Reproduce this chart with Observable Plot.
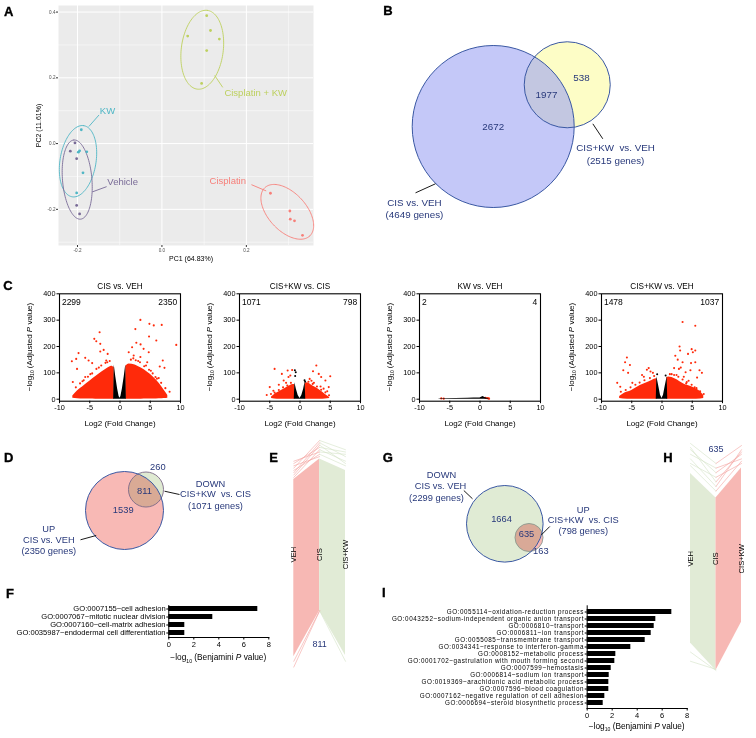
<!DOCTYPE html>
<html>
<head>
<meta charset="utf-8">
<script src="https://cdn.jsdelivr.net/npm/d3@7"></script>
<script src="https://cdn.jsdelivr.net/npm/@observablehq/plot@0.6"></script>
<style>
html,body{margin:0;padding:0;background:#fff;}
#fig{position:relative;width:756px;height:738px;overflow:hidden;background:#fff;font-family:Liberation Sans, Arial, sans-serif;}
#fig svg{position:absolute;}
</style>
</head>
<body>
<div id="fig"></div>
<script>
const FONT = 'Liberation Sans, Arial, sans-serif';
const NAVY = "#27387a";
const RED = "#ff2a0a";

// ---------------- Panel A: PCA ----------------
const pcaGroups = ["Cisplatin + KW", "KW", "Vehicle", "Cisplatin"];
const pcaColors = ["#bdd05e", "#4fb6c5", "#796b97", "#f77f79"];
const pc1CisKW = [0.106, 0.115, 0.061, 0.136, 0.106, 0.094];
const pc2CisKW = [0.389, 0.344, 0.327, 0.318, 0.283, 0.183];
const pc1KW = [-0.191, -0.195, -0.198, -0.178, -0.187, -0.202];
const pc2KW = [0.042, -0.022, -0.026, -0.025, -0.089, -0.150];
const pc1Veh = [-0.206, -0.217, -0.202, -0.202, -0.195];
const pc2Veh = [0.002, -0.023, -0.046, -0.188, -0.214];
const pc1Cis = [0.257, 0.303, 0.304, 0.314, 0.333];
const pc2Cis = [-0.151, -0.205, -0.230, -0.235, -0.279];
// confidence ellipses (centre and two semi-axis vectors, data units)
const ellCx = [0.0955, -0.1988, -0.2007, 0.2969];
const ellCy = [0.2854, -0.0537, -0.1095, -0.2076];
const ellAx = [0.01185, 0.01374, -0.00794, 0.0531];
const ellAy = [0.1198, 0.1082, 0.1204, -0.0735];
const ellBx = [0.0493, 0.04206, 0.0347, 0.0329];
const ellBy = [-0.00808, -0.00884, 0.00378, 0.0393];
const pcaLabelX = [0.222, -0.129, -0.093, 0.156];
const pcaLabelY = [0.155, 0.098, -0.118, -0.114];
const pcaLeadX1 = [0.125, -0.173, -0.165, 0.212];
const pcaLeadY1 = [0.207, 0.052, -0.147, -0.125];
const pcaLeadX2 = [0.144, -0.149, -0.131, 0.247];
const pcaLeadY2 = [0.171, 0.087, -0.131, -0.144];
const pcaMajorX = [-0.2, 0, 0.2];
const pcaMinorX = [-0.1, 0.1, 0.3];
const pcaMajorY = [-0.2, 0, 0.2, 0.4];
const pcaMinorY = [-0.3, -0.1, 0.1, 0.3];

// ---------------- Panel B: Venn ----------------
const bCircleX = [0, 0.914], bCircleY = [0, 0.515], bCircleR = [1, 0.531];
const bCountText = ["2672", "1977", "538"];
const bCountX = [0, 0.658, 1.09], bCountY = [0, 0.386, 0.601];
const bLabelText = ["CIS+KW\u00a0 vs. VEH", "(2515 genes)", "CIS vs. VEH", "(4649 genes)"];
const bLabelX = [1.51, 1.51, -0.972, -0.972], bLabelY = [-0.268, -0.42, -0.947, -1.086];
const bLeadX1 = [1.23, -0.959], bLeadY1 = [0.033, -0.819], bLeadX2 = [1.353, -0.712], bLeadY2 = [-0.152, -0.707];

// ---------------- Panel C: volcano plots ----------------
const volTitles = ["CIS vs. VEH", "CIS+KW vs. CIS", "KW vs. VEH", "CIS+KW vs. VEH"];
const volDown = ["2299", "1071", "2", "1478"];
const volUp = ["2350", "798", "4", "1037"];
const volXTicks = [-10, -5, 0, 5, 10];
const volYTicks = [0, 100, 200, 300, 400];
// CIS vs VEH
const v1LeftX = [-7.8, -7.0, -6.0, -5.0, -4.0, -3.0, -2.0, -1.4, -0.95];
const v1LeftTop = [12, 32, 50, 68, 86, 103, 118, 125, 120];
const v1LeftBot = [4, 2, 1, 0.5, 0, 0, 0, 0, 0];
const v1RightX = [0.95, 1.5, 2.5, 3.5, 4.5, 5.5, 6.5, 7.3, 7.9];
const v1RightTop = [125, 134, 130, 118, 103, 84, 60, 34, 14];
const v1RightBot = [0, 0, 0, 0, 0.5, 1, 2, 3, 4];
const v1CoreX = [-1.05, -0.95, -0.7, -0.4, -0.15, 0, 0.15, 0.4, 0.7, 0.95, 1.05];
const v1CoreTop = [0, 130, 85, 40, 10, 4, 10, 40, 85, 130, 0];
const v1OutX = [3.37,4.86,5.58,6.9,2.54,4.8,6.0,2.7,3.4,9.3,2.0,3.9,1.44,4.75,7.07,7.35,6.57,5.86,3.37,5.58,4.5,2.26,-3.37,-4.25,-3.92,-3.26,-2.7,-6.85,-7.24,-7.96,-5.75,-5.19,-3.26,-2.04,-7.8,-7.1,-4.6,-2.27,-5.75,
  -7.3,-6.6,-6.0,-5.3,-4.6,-3.9,-3.1,-2.4,-1.7,1.8,2.6,3.3,4.0,4.8,5.4,6.1,6.8,7.5,8.2,-6.2,-4.9,-3.5,-2.1,2.2,3.0,4.3,5.1,6.4];
const v1OutY = [301,286,280,282,266,238,223,214,208,206,197,191,178,178,147,119,124,84,160,46,140,166,254,229,220,210,187,175,153,144,157,147,181,172,65,115,137,147,84,
  45,60,72,85,98,115,128,138,145,150,148,140,125,112,98,78,62,42,28,68,95,120,140,155,145,128,108,80];
// CIS+KW vs CIS
const v2LeftX = [-4.7, -4.2, -3.3, -2.4, -1.6, -1.1, -0.85];
const v2LeftTop = [8, 18, 30, 42, 52, 56, 55];
const v2LeftBot = [3, 1, 0, 0, 0, 0, 0];
const v2RightX = [0.85, 1.2, 1.8, 2.6, 3.4, 4.2, 4.9];
const v2RightTop = [60, 62, 55, 44, 32, 18, 6];
const v2RightBot = [0, 0, 0, 0, 0, 1, 3];
const v2CoreX = [-0.95, -0.85, -0.6, -0.3, 0, 0.3, 0.6, 0.85, 0.95];
const v2CoreTop = [0, 62, 38, 14, 3, 14, 38, 66, 0];
const v2OutX = [-4.2,-3.0,-2.04,-1.3,-1.6,2.7,2.15,3.1,3.5,5.0,1.6,-1.9,-2.7,-5.0,-5.5,4.2,4.75,3.4,-3.5,2.3,1.9,-2.3,3.9,4.5,-4.4,
  -4.8,-4.2,-3.5,-2.8,-2.1,-1.5,1.4,2.1,2.8,3.5,4.2,4.8];
const v2OutY = [115,96,109,111,90,128,106,96,84,87,77,84,71,46,16,71,46,48,55,62,70,62,40,30,32,
  20,25,35,45,52,62,66,58,48,36,26,15];
const v2BlackX = [-0.85, -0.7, -0.8, 0.75, 0.85];
const v2BlackY = [110, 102, 88, 72, 66];
// KW vs VEH
const v3CoreX = [-6.9, -6.5, -4.0, -2.0, -1.0, 0, 0.5, 0.8, 1.2, 1.6];
const v3CoreTop = [0, 2, 3, 4, 5, 5, 10, 6, 4, 0];
const v3OutX = [-6.4, -6.0, 0.9, 1.2, 1.4, 1.5];
const v3OutY = [3, 2, 5, 4, 3, 2];
// CIS+KW vs VEH
const v4LeftX = [-7.0, -6.4, -5.0, -3.6, -2.2, -1.1, -0.8];
const v4LeftTop = [10, 20, 33, 52, 65, 77, 78];
const v4LeftBot = [3, 1, 0, 0, 0, 0, 0];
const v4RightX = [0.8, 1.1, 2.2, 3.6, 5.0, 6.4, 6.9];
const v4RightTop = [82, 84, 77, 58, 46, 27, 14];
const v4RightBot = [0, 0, 0, 0, 0, 1, 3];
const v4CoreX = [-0.95, -0.85, -0.5, -0.25, 0, 0.25, 0.5, 0.85, 0.95];
const v4CoreTop = [0, 85, 45, 15, 3, 15, 45, 85, 0];
const v4OutX = [3.4,5.5,2.9,4.9,5.5,5.1,4.3,3.0,2.2,2.6,5.5,3.4,4.8,-5.8,-6.1,-5.3,-6.4,-5.6,-2.2,-2.5,-1.9,-1.5,2.0,2.8,3.1,3.9,4.7,6.2,6.6,5.8,-7.4,-6.9,-4.9,5.4,5.0,1.6,2.4,-3.3,-3.0,3.6,4.4,4.0,
  -6.8,-6.0,-5.2,-4.4,-3.7,-2.9,-2.0,-1.3,1.3,2.0,2.7,3.4,4.1,4.9,5.7,6.3,6.9];
const v4OutY = [293,279,200,190,185,178,172,185,165,150,140,140,137,158,140,130,110,100,118,112,105,100,118,115,120,102,110,110,100,82,62,47,62,45,40,95,92,92,85,85,70,60,
  28,35,45,55,63,72,80,88,95,92,85,75,65,55,42,30,20];
const v4BlackX = [-0.8, 0.6];
const v4BlackY = [95, 90];

// ---------------- Panel D: Venn ----------------
const dCircleX = [0, 0.551], dCircleY = [0, 0.538], dCircleR = [1, 0.449];
const dCountText = ["1539", "811", "260"];
const dCountX = [-0.033, 0.513, 0.854], dCountY = [0.018, 0.487, 1.11];
const dLabelText = ["DOWN", "CIS+KW\u00a0 vs. CIS", "(1071 genes)", "UP", "CIS vs. VEH", "(2350 genes)"];
const dLabelX = [2.205, 2.333, 2.333, -1.941, -1.941, -1.941];
const dLabelY = [0.685, 0.41, 0.11, -0.469, -0.751, -1.044];
const dLeadX1 = [1.026, -1.128], dLeadY1 = [0.495, -0.751], dLeadX2 = [1.41, -0.726], dLeadY2 = [0.41, -0.641];

// ---------------- Panel G: Venn ----------------
const gCircleX = [0, 0.632], gCircleY = [0, -0.358], gCircleR = [1, 0.366];
const gCountText = ["1664", "635", "163"];
const gCountX = [-0.086, 0.567, 0.94], gCountY = [0.131, -0.279, -0.715];
const gLabelText = ["DOWN", "CIS vs. VEH", "(2299 genes)", "UP", "CIS+KW\u00a0 vs. CIS", "(798 genes)"];
const gLabelX = [-1.653, -1.679, -1.783, 2.047, 2.047, 2.047];
const gLabelY = [1.261, 0.982, 0.679, 0.366, 0.104, -0.201];
const gLeadX1 = [-1.07, 0.958], gLeadY1 = [0.869, -0.287], gLeadX2 = [-0.843, 1.175], gLeadY2 = [0.653, -0.07];

// ---------------- Panels E and H: parallel coordinates ----------------
const pcColumns = ["VEH", "CIS", "CIS+KW"];
const ePinkHi = [83, 92], ePinkLo = [6, 26];
const eGreenHi = [92, 87], eGreenLo = [26, 6.5];
const eFringePinkVEH = [88, 90, 86, 84, 91, 87, 85, 89, 1.5, 4];
const eFringePinkCIS = [100, 97, 99, 96, 95, 94, 98, 93, 26, 26];
const eFringeGreenCIS = [100, 99, 97, 96, 98, 95, 94, 26];
const eFringeGreenKW = [96, 93, 95, 91, 90, 94, 89, 4];
const hGreenHi = [85.6, 75], hGreenLo = [12, 0];
const hPinkHi = [75, 88], hPinkLo = [0, 21];
const hFringeGreenVEH = [98.7, 96, 94, 92, 90, 89, 97, 8, 4];
const hFringeGreenCIS = [90, 86, 88, 80, 84, 78, 82, 0, 0.5];
const hFringePinkCIS = [90, 86, 88, 80, 84, 78, 82];
const hFringePinkKW = [97.8, 94, 92, 96, 90, 91, 95];

// ---------------- Panels F and I: GO terms ----------------
const fTerms = ["GO:0007155~cell adhesion", "GO:0007067~mitotic nuclear division", "GO:0007160~cell-matrix adhesion", "GO:0035987~endodermal cell differentiation"];
const fValues = [7.12, 3.52, 1.28, 1.28];
const iTerms = ["GO:0055114~oxidation-reduction process", "GO:0043252~sodium-independent organic anion transport", "GO:0006810~transport", "GO:0006811~ion transport", "GO:0055085~transmembrane transport", "GO:0034341~response to interferon-gamma", "GO:0008152~metabolic process", "GO:0001702~gastrulation with mouth forming second", "GO:0007599~hemostasis", "GO:0006814~sodium ion transport", "GO:0019369~arachidonic acid metabolic process", "GO:0007596~blood coagulation", "GO:0007162~negative regulation of cell adhesion", "GO:0006694~steroid biosynthetic process"];
const iValues = [6.77, 5.49, 5.36, 5.12, 4.64, 3.49, 2.29, 2.21, 1.92, 1.76, 1.73, 1.73, 1.41, 1.28];
const barTicks = [0, 2, 4, 6, 8];

// ================= helpers =================
const fig = document.getElementById("fig");
const baseStyle = {fontFamily: FONT, fontSize: "7px", color: "#000", background: "transparent", overflow: "visible"};
function place(el, left, top) {
  el.style.position = "absolute";
  el.style.left = left + "px";
  el.style.top = top + "px";
  fig.appendChild(el);
}
function richText(svg, x, y, rot, fs, parts) {
  const t = d3.select(svg).append("text")
    .attr("transform", `translate(${x},${y}) rotate(${rot})`)
    .attr("text-anchor", "middle").attr("font-size", fs)
    .attr("font-family", FONT).attr("fill", "#000");
  let shift = 0;
  parts.forEach((p, i) => {
    const s = t.append("tspan").text(p.t);
    let dy = i === 0 ? 0.35 * fs : 0;
    if (p.sub) { s.attr("font-size", fs * 0.62); dy += 0.3 * fs; shift = 0.3 * fs; }
    else if (shift) { dy -= shift; shift = 0; }
    if (p.it) s.attr("font-style", "italic");
    if (dy) s.attr("dy", dy);
  });
}
const adjLabel = [{t: "\u2212log"}, {t: "10", sub: true}, {t: " (Adjusted "}, {t: "P", it: true}, {t: " value)"}];
const benjLabel = [{t: "\u2212log"}, {t: "10", sub: true}, {t: " (Benjamini "}, {t: "P", it: true}, {t: " value)"}];

// ================= Panel A =================
{
  const pc1 = [pc1CisKW, pc1KW, pc1Veh, pc1Cis];
  const pc2 = [pc2CisKW, pc2KW, pc2Veh, pc2Cis];
  const pts = pcaGroups.flatMap((g, gi) => pc1[gi].map((x, i) => ({g, x, y: pc2[gi][i]})));
  const ell = pcaGroups.flatMap((g, gi) => d3.range(0, 121).map(k => {
    const t = 2 * Math.PI * k / 120;
    return {g, x: ellCx[gi] + ellAx[gi] * Math.cos(t) + ellBx[gi] * Math.sin(t),
               y: ellCy[gi] + ellAy[gi] * Math.cos(t) + ellBy[gi] * Math.sin(t)};
  }));
  const labels = pcaGroups.map((g, i) => ({g, x: pcaLabelX[i], y: pcaLabelY[i]}));
  const leads = pcaGroups.map((g, i) => ({g, x1: pcaLeadX1[i], y1: pcaLeadY1[i], x2: pcaLeadX2[i], y2: pcaLeadY2[i]}));
  const svg = Plot.plot({
    width: 380, height: 280, marginLeft: 58, marginRight: 67, marginTop: 5, marginBottom: 35,
    x: {domain: [-0.245, 0.359]}, y: {domain: [-0.31, 0.42]},
    color: {domain: pcaGroups, range: pcaColors},
    style: baseStyle,
    marks: [
      Plot.frame({fill: "#ebebeb", stroke: null}),
      Plot.ruleX(pcaMinorX, {stroke: "#fff", strokeWidth: 0.5}),
      Plot.ruleY(pcaMinorY, {stroke: "#fff", strokeWidth: 0.5}),
      Plot.ruleX(pcaMajorX, {stroke: "#fff", strokeWidth: 1}),
      Plot.ruleY(pcaMajorY, {stroke: "#fff", strokeWidth: 1}),
      Plot.line(ell, {x: "x", y: "y", z: "g", stroke: "g", strokeWidth: 0.9, curve: "linear"}),
      Plot.dot(pts, {x: "x", y: "y", fill: "g", r: 1.4}),
      Plot.link(leads, {x1: "x1", y1: "y1", x2: "x2", y2: "y2", stroke: "g", strokeWidth: 0.9}),
      Plot.text(labels, {x: "x", y: "y", text: "g", fill: "g", fontSize: 9.5}),
      Plot.axisX({ticks: pcaMajorX, tickSize: 2, tickPadding: 1, fontSize: 4.6, tickFormat: d => d.toFixed(1), label: null, stroke: "#333", fill: "#4d4d4d"}),
      Plot.axisY({ticks: pcaMajorY, tickSize: 2, tickPadding: 1, fontSize: 4.6, tickFormat: d => d.toFixed(1), label: null, stroke: "#333", fill: "#4d4d4d"}),
      Plot.text(["PC1 (64.83%)"], {frameAnchor: "bottom", dy: 13.3, dx: 5, lineAnchor: "middle", fontSize: 7}),
      Plot.text(["PC2 (11.61%)"], {frameAnchor: "left", dx: -20, rotate: -90, textAnchor: "middle", fontSize: 7})
    ]
  });
  place(svg, 0, 0);
}

// ================= Venn helper =================
function venn(cfg) {
  const {width, height, cx, cy, unit} = cfg;
  return Plot.plot({
    width, height, margin: 0,
    x: {domain: [-cx / unit, (width - cx) / unit], axis: null},
    y: {domain: [(cy - height) / unit, cy / unit], axis: null},
    r: {type: "linear", domain: [0, 1], range: [0, unit]},
    style: baseStyle,
    marks: cfg.marks
  });
}
const rows = (xs, ys, extra) => xs.map((x, i) => Object.assign({x, y: ys[i]}, extra ? extra(i) : {}));

// ================= Panel B =================
{
  const circles = bCircleX.map((x, i) => ({x, y: bCircleY[i], r: bCircleR[i]}));
  const counts = rows(bCountX, bCountY, i => ({t: bCountText[i]}));
  const labels = rows(bLabelX, bLabelY, i => ({t: bLabelText[i]}));
  const leads = bLeadX1.map((x1, i) => ({x1, y1: bLeadY1[i], x2: bLeadX2[i], y2: bLeadY2[i]}));
  const svg = venn({width: 376, height: 280, cx: 112.7, cy: 126, unit: 81, marks: [
    Plot.dot([circles[1]], {x: "x", y: "y", r: "r", fill: "#fdfdc6"}),
    Plot.dot([circles[0]], {x: "x", y: "y", r: "r", fill: "#9ca3f3", fillOpacity: 0.6}),
    Plot.dot(circles, {x: "x", y: "y", r: "r", stroke: "#3a58a3", strokeWidth: 1, fill: "none"}),
    Plot.text(counts, {x: "x", y: "y", text: "t", fill: NAVY, fontSize: 9.8}),
    Plot.link(leads, {x1: "x1", y1: "y1", x2: "x2", y2: "y2", stroke: "#000", strokeWidth: 0.9}),
    Plot.text(labels, {x: "x", y: "y", text: "t", fill: NAVY, fontSize: 9.8})
  ]});
  place(svg, 380, 0);
}

// ================= Panel C =================
function volcano(k, frameLeft, spec) {
  const band = (xs, bot, top) => (xs || []).map((x, i) => ({x, lo: bot[i], hi: top[i]}));
  const L = band(spec.lx, spec.lb, spec.lt);
  const R = band(spec.rx, spec.rb, spec.rt);
  const C = spec.cx.map((x, i) => ({x, lo: 0, hi: spec.ct[i]}));
  const O = rows(spec.ox, spec.oy);
  const K = rows(spec.kx || [], spec.ky || []);
  const svg = Plot.plot({
    width: 180, height: 150, marginLeft: 45, marginRight: 14, marginTop: 13.3, marginBottom: 29.3,
    x: {domain: [-10, 10]}, y: {domain: [-7.6, 400]},
    style: baseStyle,
    marks: [
      Plot.areaY(L, {x: "x", y1: "lo", y2: "hi", fill: RED, curve: "monotone-x"}),
      Plot.areaY(R, {x: "x", y1: "lo", y2: "hi", fill: RED, curve: "monotone-x"}),
      Plot.dot(O, {x: "x", y: "y", r: 1.05, fill: RED}),
      Plot.areaY(C, {x: "x", y1: "lo", y2: "hi", fill: "#000", curve: "linear"}),
      Plot.dot(K, {x: "x", y: "y", r: 1, fill: "#000"}),
      Plot.frame({stroke: "#000", strokeWidth: 1.1}),
      Plot.axisX({ticks: volXTicks, tickSize: 2.5, tickPadding: 1.5, fontSize: 7.3, tickFormat: d => String(d), label: null}),
      Plot.axisY({ticks: volYTicks, tickSize: 2.5, tickPadding: 1.5, fontSize: 7.3, tickFormat: d => String(d), label: null}),
      Plot.text([volTitles[k]], {frameAnchor: "top", dy: -7.6, lineAnchor: "middle", fontSize: 8.2}),
      Plot.text([volDown[k]], {frameAnchor: "top-left", dx: 2.4, dy: 8.4, lineAnchor: "middle", fontSize: 8.5}),
      Plot.text([volUp[k]], {frameAnchor: "top-right", dx: -3.3, dy: 8.4, lineAnchor: "middle", fontSize: 8.5}),
      Plot.text(["Log2 (Fold Change)"], {frameAnchor: "bottom", dy: 22.6, lineAnchor: "middle", fontSize: 8})
    ]
  });
  richText(svg, 15, 67, -90, 8, adjLabel);
  place(svg, frameLeft - 45, 280);
}
volcano(0, 59.3, {lx: v1LeftX, lb: v1LeftBot, lt: v1LeftTop, rx: v1RightX, rb: v1RightBot, rt: v1RightTop, cx: v1CoreX, ct: v1CoreTop, ox: v1OutX, oy: v1OutY});
volcano(1, 239.3, {lx: v2LeftX, lb: v2LeftBot, lt: v2LeftTop, rx: v2RightX, rb: v2RightBot, rt: v2RightTop, cx: v2CoreX, ct: v2CoreTop, ox: v2OutX, oy: v2OutY, kx: v2BlackX, ky: v2BlackY});
volcano(2, 419.3, {cx: v3CoreX, ct: v3CoreTop, ox: v3OutX, oy: v3OutY});
volcano(3, 601, {lx: v4LeftX, lb: v4LeftBot, lt: v4LeftTop, rx: v4RightX, rb: v4RightBot, rt: v4RightTop, cx: v4CoreX, ct: v4CoreTop, ox: v4OutX, oy: v4OutY, kx: v4BlackX, ky: v4BlackY});

// ================= Panel D =================
{
  const circles = dCircleX.map((x, i) => ({x, y: dCircleY[i], r: dCircleR[i]}));
  const svg = venn({width: 270, height: 125, cx: 124, cy: 65, unit: 39, marks: [
    Plot.dot([circles[1]], {x: "x", y: "y", r: "r", fill: "#dfead2"}),
    Plot.dot([circles[0]], {x: "x", y: "y", r: "r", fill: "#f8b9b5", mixBlendMode: "multiply"}),
    Plot.dot([circles[1]], {x: "x", y: "y", r: "r", stroke: "#7d6a88", strokeWidth: 0.9, fill: "none"}),
    Plot.dot([circles[0]], {x: "x", y: "y", r: "r", stroke: "#3a58a3", strokeWidth: 1, fill: "none"}),
    Plot.text(rows(dCountX, dCountY, i => ({t: dCountText[i]})), {x: "x", y: "y", text: "t", fill: NAVY, fontSize: 9.3}),
    Plot.link(dLeadX1.map((x1, i) => ({x1, y1: dLeadY1[i], x2: dLeadX2[i], y2: dLeadY2[i]})), {x1: "x1", y1: "y1", x2: "x2", y2: "y2", stroke: "#000", strokeWidth: 0.9}),
    Plot.text(rows(dLabelX, dLabelY, i => ({t: dLabelText[i]})), {x: "x", y: "y", text: "t", fill: NAVY, fontSize: 9.3})
  ]});
  place(svg, 0, 445);
}

// ================= Panel G =================
{
  const circles = gCircleX.map((x, i) => ({x, y: gCircleY[i], r: gCircleR[i]}));
  const svg = venn({width: 280, height: 125, cx: 124.3, cy: 78.3, unit: 38.3, marks: [
    Plot.dot([circles[0]], {x: "x", y: "y", r: "r", fill: "#e0ebd4"}),
    Plot.dot([circles[1]], {x: "x", y: "y", r: "r", fill: "#f7b8b6", mixBlendMode: "multiply"}),
    Plot.dot([circles[1]], {x: "x", y: "y", r: "r", stroke: "#8a9a90", strokeWidth: 0.9, fill: "none"}),
    Plot.dot([circles[0]], {x: "x", y: "y", r: "r", stroke: "#3a58a3", strokeWidth: 1, fill: "none"}),
    Plot.text(rows(gCountX, gCountY, i => ({t: gCountText[i]})), {x: "x", y: "y", text: "t", fill: NAVY, fontSize: 9.3}),
    Plot.link(gLeadX1.map((x1, i) => ({x1, y1: gLeadY1[i], x2: gLeadX2[i], y2: gLeadY2[i]})), {x1: "x1", y1: "y1", x2: "x2", y2: "y2", stroke: "#000", strokeWidth: 0.9}),
    Plot.text(rows(gLabelX, gLabelY, i => ({t: gLabelText[i]})), {x: "x", y: "y", text: "t", fill: NAVY, fontSize: 9.3})
  ]});
  place(svg, 380, 445);
}

// ================= Panels E and H =================
function parallel(cfg) {
  const bandA = [0, 1].map((x, i) => ({x, lo: cfg.aLo[i], hi: cfg.aHi[i]}));
  const bandB = [1, 2].map((x, i) => ({x, lo: cfg.bLo[i], hi: cfg.bHi[i]}));
  const linesA = cfg.faStart.flatMap((v, i) => [{id: "a" + i, x: 0, v}, {id: "a" + i, x: 1, v: cfg.faEnd[i]}]);
  const linesB = cfg.fbStart.flatMap((v, i) => [{id: "b" + i, x: 1, v}, {id: "b" + i, x: 2, v: cfg.fbEnd[i]}]);
  const colLabels = pcColumns.map((t, i) => ({t, x: i}));
  return Plot.plot({
    width: 80, height: 250, marginLeft: cfg.ml, marginRight: 15, marginTop: 10, marginBottom: 10,
    x: {domain: [0, 2], axis: null}, y: {domain: [0, 100], axis: null},
    style: baseStyle,
    marks: [
      Plot.areaY(bandA, {x: "x", y1: "lo", y2: "hi", fill: cfg.colA}),
      Plot.areaY(bandB, {x: "x", y1: "lo", y2: "hi", fill: cfg.colB}),
      Plot.line(linesA, {x: "x", y: "v", z: "id", stroke: cfg.lineA, strokeWidth: 0.6}),
      Plot.line(linesB, {x: "x", y: "v", z: "id", stroke: cfg.lineB, strokeWidth: 0.6}),
      Plot.text(colLabels, {x: "x", y: () => cfg.labelV, text: "t", rotate: -90, textAnchor: "middle", fontSize: 7.6}),
      Plot.text([cfg.count], {x: () => 1, y: () => cfg.countV, fill: NAVY, fontSize: 9})
    ]
  });
}
const PINK = "#f7b8b4", GREEN = "#e1ebd6", PINKL = "#f4a3a0", GREENL = "#d3e3c6";
place(parallel({ml: 13.3, aLo: ePinkLo, aHi: ePinkHi, bLo: eGreenLo, bHi: eGreenHi, colA: PINK, colB: GREEN, lineA: PINKL, lineB: GREENL,
  faStart: eFringePinkVEH, faEnd: eFringePinkCIS, fbStart: eFringeGreenCIS, fbEnd: eFringeGreenKW, labelV: 50.4, count: "811", countV: 11.6}), 280, 430);
place(parallel({ml: 14, aLo: hGreenLo, aHi: hGreenHi, bLo: hPinkLo, bHi: hPinkHi, colA: GREEN, colB: PINK, lineA: GREENL, lineB: PINKL,
  faStart: hFringeGreenVEH, faEnd: hFringeGreenCIS, fbStart: hFringePinkCIS, fbEnd: hFringePinkKW, labelV: 48.6, count: "635", countV: 96.4}), 676, 430);

// ================= Panels F and I =================
function goBars(terms, values, cfg) {
  const data = terms.map((t, i) => ({t, v: values[i]}));
  const svg = Plot.plot({
    width: cfg.width, height: cfg.height, marginLeft: cfg.ml, marginRight: cfg.width - cfg.ml - 100, marginTop: cfg.mt, marginBottom: cfg.mb,
    x: {domain: [0, 8]},
    y: {domain: terms, paddingInner: cfg.pad, paddingOuter: cfg.pad / 2},
    style: baseStyle,
    marks: [
      Plot.barX(data, {x: "v", y: "t", fill: "#000"}),
      Plot.frame({anchor: "left", stroke: "#000", strokeWidth: 1}),
      Plot.frame({anchor: "bottom", stroke: "#000", strokeWidth: 1}),
      Plot.axisY({tickSize: 2, tickPadding: 1.2, fontSize: cfg.fs, label: null}),
      Plot.axisX({ticks: barTicks, tickSize: 2.5, tickPadding: 1.5, fontSize: 7.5, label: null})
    ]
  });
  if (cfg.ls) d3.select(svg).selectAll('g[aria-label="y-axis tick label"] text').attr("letter-spacing", cfg.ls);
  richText(svg, cfg.ml + 50, cfg.titleY, 0, 8.3, benjLabel);
  return svg;
}
place(goBars(fTerms, fValues, {width: 280, height: 70, ml: 168.3, mt: 10, mb: 28, pad: 0.37, titleY: 62.3, fs: 7.6}), 0, 595);
place(goBars(iTerms, iValues, {width: 330, height: 143, ml: 210.7, mt: 10.3, mb: 30, pad: 0.32, titleY: 130.7, fs: 6.3, ls: 0.55}), 376, 595);

// ================= panel letters =================
{
  const letters = ["A", "B", "C", "D", "E", "F", "G", "H", "I"];
  const lx = [4, 383.3, 3.3, 4, 269.3, 6, 382.7, 663.3, 382];
  const ly = [15.7, 15, 290, 461.7, 461.7, 597.7, 462.3, 462.3, 596.7];
  const ov = d3.create("svg").attr("width", 756).attr("height", 738).style("left", "0px").style("top", "0px").style("pointer-events", "none");
  ov.selectAll("text").data(letters).join("text")
    .attr("x", (d, i) => lx[i]).attr("y", (d, i) => ly[i])
    .attr("font-family", FONT).attr("font-weight", "bold").attr("font-size", 13)
    .attr("stroke", "#000").attr("stroke-width", 0.35).attr("fill", "#000")
    .text(d => d);
  fig.appendChild(ov.node());
}
</script>
</body>
</html>
